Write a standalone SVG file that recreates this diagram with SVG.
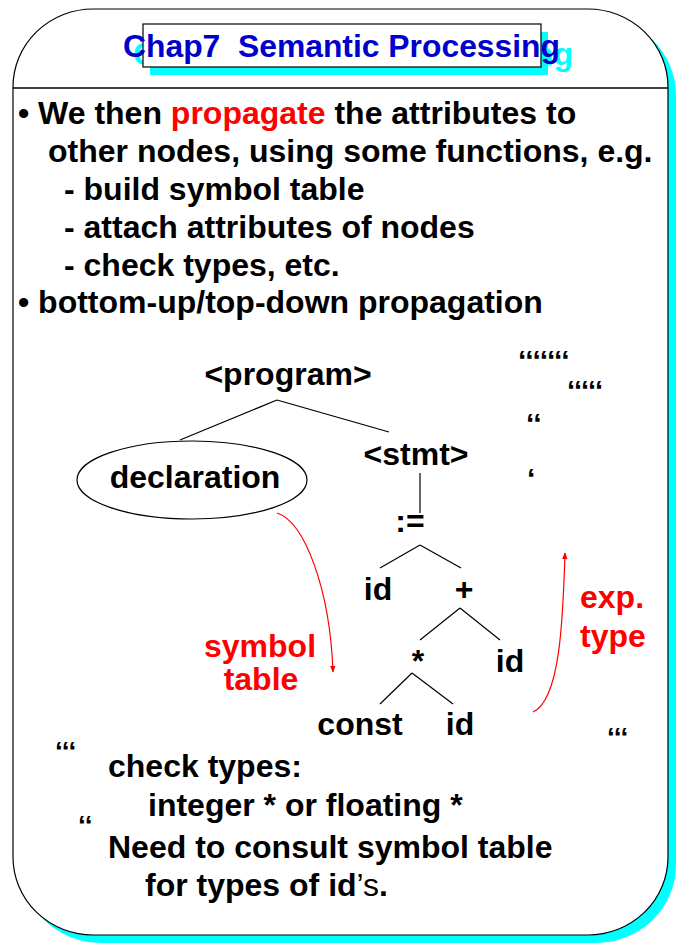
<svg xmlns="http://www.w3.org/2000/svg" width="680" height="944" viewBox="0 0 680 944">
<style>
text{font-family:"Liberation Sans",Arial,Helvetica,sans-serif;font-weight:bold;font-size:32px;fill:#000}
.c{text-anchor:middle}
.red{fill:#FF0000}
.q{font-size:30px}
.edge{stroke:#000;stroke-width:1.2;fill:none}
.rarr{stroke:#FF0000;stroke-width:1.2;fill:none;marker-end:url(#ah)}
.title{font-size:31px;fill:#0000CC}
.tshadow{font-size:31px;fill:#00FFFF}
</style>
<defs>
<marker id="ah" viewBox="0 0 10 10" refX="9" refY="5" markerWidth="7" markerHeight="9" markerUnits="userSpaceOnUse" orient="auto">
<path d="M0,1 L10,5 L0,9 Z" fill="#FF0000"/>
</marker>
</defs>
<rect width="680" height="944" fill="#fff"/>
<g id="frame">
<rect x="21" y="17" width="655" height="926" rx="80" ry="78" fill="#00FFFF"/>
<rect x="13" y="9" width="655" height="926" rx="80" ry="78" fill="#fff" stroke="#000" stroke-width="1.2"/>
<line x1="13" y1="88" x2="668" y2="88" stroke="#000" stroke-width="1.5"/>
</g>
<g id="title">
<rect x="150" y="32" width="398" height="43" fill="#00FFFF"/>
<text class="tshadow" x="133" y="65" textLength="440" lengthAdjust="spacingAndGlyphs">Chap7&#160; Semantic Processing</text>
<rect x="143" y="24" width="398" height="43" fill="#fff" stroke="#000" stroke-width="1.2"/>
<text class="title" x="123" y="57" textLength="437" lengthAdjust="spacingAndGlyphs">Chap7&#160; Semantic Processing</text>
</g>
<g id="body">
<text x="18" y="124">• We then <tspan class="red">propagate</tspan> the attributes to</text>
<text x="48" y="162">other nodes, using some functions, e.g.</text>
<text x="64" y="200">- build symbol table</text>
<text x="64" y="238">- attach attributes of nodes</text>
<text x="64" y="276">- check types, etc.</text>
<text x="18" y="313">• bottom-up/top-down propagation</text>
</g>
<g id="connectors">
<line class="edge" x1="277" y1="400" x2="180" y2="440"/>
<line class="edge" x1="277" y1="400" x2="389" y2="432"/>
<line class="edge" x1="420" y1="473" x2="420" y2="513"/>
<line class="edge" x1="420" y1="545" x2="380" y2="568"/>
<line class="edge" x1="420" y1="545" x2="461" y2="568"/>
<line class="edge" x1="460" y1="608" x2="420" y2="640"/>
<line class="edge" x1="460" y1="608" x2="500" y2="640"/>
<line class="edge" x1="412" y1="673" x2="380" y2="704"/>
<line class="edge" x1="412" y1="673" x2="453" y2="704"/>
<path class="rarr" d="M277,513 C305,522 330,590 333,672"/>
<path class="rarr" d="M533,712 C560,700 563,620 565,553"/>
</g>
<g id="program"><text class="c" x="288" y="385">&lt;program&gt;</text></g>
<g id="declaration">
<ellipse cx="192" cy="480" rx="115" ry="39" fill="none" stroke="#000" stroke-width="1.2"/>
<text class="c" x="195" y="488">declaration</text>
</g>
<g id="stmt"><text class="c" x="416" y="465">&lt;stmt&gt;</text></g>
<g id="assign"><text class="c" x="410" y="532">:=</text></g>
<g id="id-left"><text class="c" x="378" y="600">id</text></g>
<g id="plus"><text class="c" x="464" y="600">+</text></g>
<g id="times"><text class="c" x="418" y="672">*</text></g>
<g id="id-right"><text class="c" x="510" y="672">id</text></g>
<g id="const"><text class="c" x="360" y="735">const</text></g>
<g id="id-bottom"><text class="c" x="460" y="735">id</text></g>
<g id="label-symbol-table">
<text class="c red" x="260" y="657">symbol</text>
<text class="c red" x="261" y="690">table</text>
</g>
<g id="label-exp-type">
<text class="red" x="580" y="608">exp.</text>
<text class="red" x="580" y="647">type</text>
</g>
<g id="marks">
<text class="q" x="518" y="371">‘‘‘‘‘‘‘</text>
<text class="q" x="567" y="401" style="font-size:29px">‘‘‘‘‘</text>
<text class="q" x="526" y="434">‘‘</text>
<text class="q" x="527" y="489">‘</text>
<text class="q" x="607" y="747" style="font-size:28px">‘‘‘</text>
<text class="q" x="55" y="761" style="font-size:28px">‘‘‘</text>
<text class="q" x="78" y="835" style="font-size:28px">‘‘</text>
</g>
<g id="notes">
<text x="108" y="777">check types:</text>
<text x="148" y="816">integer * or floating *</text>
<text x="108" y="858">Need to consult symbol table</text>
<text x="145" y="896">for types of id<tspan style="font-weight:normal">’s</tspan>.</text>
</g>
</svg>
